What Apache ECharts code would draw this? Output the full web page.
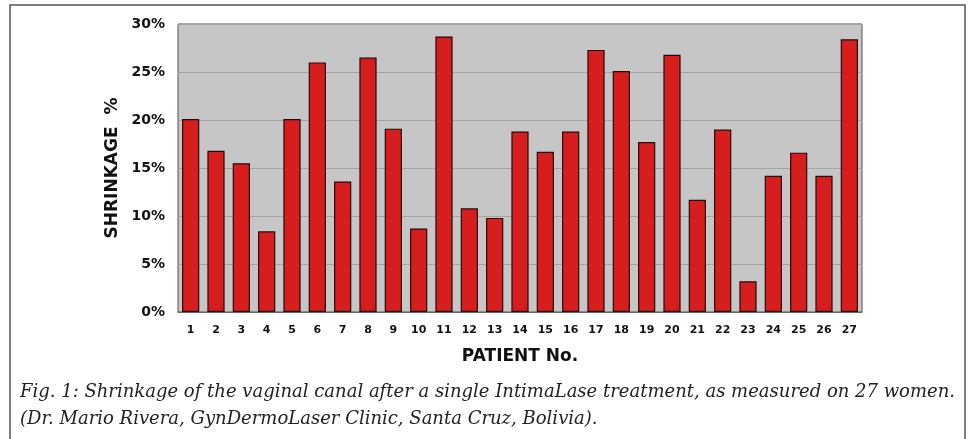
<!DOCTYPE html>
<html><head><meta charset="utf-8">
<script src="https://cdn.jsdelivr.net/npm/echarts@6/dist/echarts.min.js"></script>
<style>html,body{margin:0;padding:0;background:#fff}#c{width:972px;height:439px}</style>
</head><body><div id="c"></div>
<script>
const patients = ['1','2','3','4','5','6','7','8','9','10','11','12','13','14','15','16','17','18','19','20','21','22','23','24','25','26','27'];
const shrinkage = [20.1,16.8,15.5,8.4,20.1,26.0,13.6,26.5,19.1,8.7,28.7,10.8,9.8,18.8,16.7,18.8,27.3,25.1,17.7,26.8,11.7,19.0,3.2,14.2,16.6,14.2,28.4];
const yTicks = [0,5,10,15,20,25,30];
const captionLines = [
  'Fig. 1: Shrinkage of the vaginal canal after a single IntimaLase treatment, as measured on 27 women.',
  '(Dr. Mario Rivera, GynDermoLaser Clinic, Santa Cruz, Bolivia).'
];
const bold = '"DejaVu Sans", "Liberation Sans", Arial';

const chart = echarts.init(document.getElementById('c'), null, {renderer:'canvas'});
chart.setOption({
  animation:false,
  grid:{left:178,right:110,top:24,bottom:127,show:true,backgroundColor:'#c6c6c6',borderColor:'#555',borderWidth:1},
  xAxis:{type:'category',data:patients,
    axisLine:{lineStyle:{color:'#666'}},axisTick:{show:false},
    axisLabel:{color:'#111',fontFamily:bold,fontWeight:'bold',fontSize:11,margin:13,interval:0},
    name:'PATIENT No.',nameLocation:'middle',nameGap:36,
    nameTextStyle:{color:'#111',fontFamily:bold,fontWeight:'bold',fontSize:17}},
  yAxis:{type:'value',min:yTicks[0],max:yTicks[yTicks.length-1],interval:5,
    axisLine:{show:false},axisTick:{show:false},
    splitLine:{lineStyle:{color:'#a4a4a4',width:1}},
    axisLabel:{formatter:v=>v+'%',color:'#111',fontFamily:bold,fontWeight:'bold',fontSize:14,margin:13},
    name:'SHRINKAGE  %',nameLocation:'middle',nameGap:56,nameRotate:90,
    nameTextStyle:{color:'#111',fontFamily:bold,fontWeight:'bold',fontSize:17}},
  series:[{type:'bar',data:shrinkage,barWidth:'68%',
    itemStyle:{color:'#d61e1e',borderColor:'#2a0808',borderWidth:1.2}}],
  graphic:[
    {type:'rect',shape:{x:10,y:5,width:955,height:460},style:{fill:'none',stroke:'#555',lineWidth:1.5},silent:true},
    {type:'text',left:20,top:383,style:{text:captionLines[0],fill:'#222',font:'italic 18px "DejaVu Serif", serif'}},
    {type:'text',left:20,top:410,style:{text:captionLines[1],fill:'#222',font:'italic 18px "DejaVu Serif", serif'}}
  ]
});
</script></body></html>
